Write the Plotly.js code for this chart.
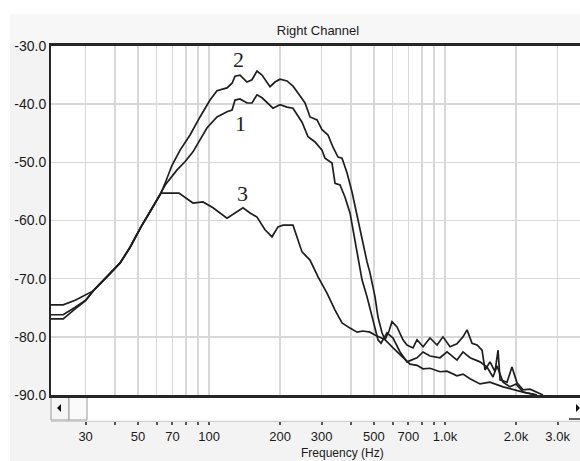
<!DOCTYPE html>
<html>
<head>
<meta charset="utf-8">
<script src="https://cdn.plot.ly/plotly-3.0.1.min.js"></script>
<style>html,body{margin:0;padding:0;background:#fff;}#chart{width:580px;height:461px;}</style>
</head>
<body>
<div id="chart"></div>
<script>
// ---- data (frequency in Hz, level in dB) ----
var freq1 = [21.4,24.1,27.1,30.0,32.3,38.4,42.0,46.3,51.5,56.8,62.6,65.7,73.2,79.1,85.5,91.6,98.0,108.1,119.2,125.2,128.9,135.3,144.9,152.1,159.7,167.7,176.1,186.7,200.0,214.0,226.9,238.3,247.8,262.8,281.3,301.2,310.0,332.0,342.0,359.1,377.0,395.8,411.6,428.0,445.0,467.2,495.3,520.0,535.6,567.9,602.3,644.8,690.2,761.0,807,864,952,1020,1124,1192,1277,1407,1507,1597,1661,1762,1886,1999,2141,2454];
var level1 = [-76.9,-76.9,-75.2,-73.8,-72.1,-69.0,-67.3,-64.6,-61.1,-58.2,-55.3,-53.7,-51.3,-49.9,-48.2,-46.2,-44.1,-42.2,-41.3,-41.0,-39.3,-39.1,-39.8,-39.8,-38.4,-38.9,-39.8,-40.7,-40.1,-40.5,-40.7,-42.0,-43.1,-45.6,-46.5,-47.9,-49.3,-50.1,-53.6,-53.9,-56.0,-58.7,-62.5,-66.4,-70.2,-73.1,-77.1,-80.5,-81.1,-79.3,-80.2,-82.6,-84.3,-83.6,-82.6,-83.3,-83.6,-82.6,-84.0,-82.6,-83.6,-84.3,-85.2,-86.9,-85.0,-87.8,-88.6,-88.1,-89.5,-90.0];

var freq2 = [21.4,24.1,27.1,30.0,32.3,38.4,42.0,46.3,51.5,56.8,62.6,65.7,69.7,75.4,83.1,91.6,101.0,108.1,119.2,125.2,128.9,135.3,144.9,152.1,159.7,167.7,176.1,181.3,190.4,200.0,214.0,226.9,238.3,255.2,267.9,286.9,301.2,319.3,335.3,352.1,366.2,384.3,403.6,423.8,445.0,467.2,481.0,505.0,520.0,540.8,557.0,579,596.4,626,663.7,690.2,731.8,761.0,807,864,925,980.6,1050,1124,1192,1240,1302,1367,1435,1478,1551,1629,1678,1711,1832,1922,2019,2141,2292,2454,2602];
var level2 = [-76.2,-76.2,-74.9,-73.7,-72.1,-69.0,-67.3,-64.6,-61.1,-58.2,-55.3,-53.2,-50.5,-47.9,-45.3,-42.2,-39.3,-37.7,-37.2,-36.4,-35.2,-35.0,-36.2,-35.8,-34.3,-35.0,-36.2,-37.0,-36.2,-35.7,-36.0,-36.9,-38.1,-39.8,-42.2,-42.7,-44.4,-45.3,-47.4,-49.1,-49.3,-51.8,-55.1,-59.1,-63.4,-67.1,-69.0,-73.1,-76.6,-79.3,-80.5,-79.0,-77.4,-78.3,-80.5,-81.4,-81.9,-80.5,-81.7,-80.2,-81.4,-80.0,-81.7,-81.2,-80.0,-78.8,-81.1,-81.4,-82.3,-85.7,-84.3,-86.0,-82.3,-87.4,-87.8,-85.2,-87.9,-89.1,-89.0,-89.5,-90.0];

var freq3 = [21.4,24.1,27.1,30.0,32.3,38.4,42.0,46.3,51.5,56.8,62.6,64.5,74.6,85.5,94.3,104.0,119.2,139.3,149.2,159.7,172.7,184.9,196.0,205.9,226.9,247.8,267.9,289.7,316.2,342.0,366.2,395.8,423.8,449.3,481.0,505.0,557.0,602.3,663.7,710.7,761,807,864,952,1020,1124,1192,1277,1407,1551,1762,1941,2141,2454];
var level3 = [-74.5,-74.5,-73.7,-72.8,-72.1,-69.0,-67.3,-64.6,-61.1,-58.2,-55.3,-55.3,-55.3,-57.0,-56.8,-57.8,-59.6,-57.8,-58.7,-59.4,-61.6,-62.8,-61.1,-60.8,-60.8,-65.4,-66.8,-69.7,-72.5,-75.4,-77.6,-78.5,-79.2,-79.0,-79.2,-79.7,-80.5,-81.9,-83.6,-84.7,-84.9,-85.5,-85.4,-86.0,-85.9,-86.7,-86.4,-87.2,-88.1,-87.8,-88.6,-89.1,-89.5,-90.0];

var seriesNames = ['1','2','3'];
var yTickVals = [-90,-80,-70,-60,-50,-40,-30];
var yTickText = ['-90.0','-80.0','-70.0','-60.0','-50.0','-40.0','-30.0'];
var xTickVals = [30,40,50,60,70,80,90,100,200,300,400,500,600,700,800,900,1000,2000,3000];
var xTickText = ['30','','50','','70','','','100','200','300','','500','','700','','','1.0k','2.0k','3.0k'];
var chartTitle = 'Right Channel';
var xTitle = 'Frequency (Hz)';

// ---- geometry helpers (pixels -> paper) ----
var W = 580, H = 461, ML = 51, MT = 46;
var PW = W - ML, PH = H - MT;
function px(x){ return (x - ML) / PW; }
function py(y){ return (H - y) / PH; }

var lineStyle = {color:'#1e1e1e', width:1.7};
var traces = [
  {x:freq1, y:level1, name:seriesNames[0], mode:'lines', line:lineStyle},
  {x:freq2, y:level2, name:seriesNames[1], mode:'lines', line:lineStyle},
  {x:freq3, y:level3, name:seriesNames[2], mode:'lines', line:lineStyle, xaxis:'x2', yaxis:'y'}
];

var xr = [Math.log10(21.4), Math.log10(3733)];
var sans = 'Liberation Sans, Arial, sans-serif';

var layout = {
  width: W, height: H,
  margin: {l: ML, r: 0, t: MT, b: 0, pad: 0},
  paper_bgcolor: '#f3f3f3',
  plot_bgcolor: '#ffffff',
  showlegend: false,
  title: {text: chartTitle, x: 318 / W, xanchor: 'center', xref: 'container', y: 1 - 30 / H, yanchor: 'middle', yref: 'container',
          font: {family: sans, size: 13, color: '#1a1a1a'}},
  xaxis: {type: 'log', range: xr, tickvals: xTickVals, showticklabels: false, ticks: '',
          showgrid: true, gridcolor: '#d8d8d8', gridwidth: 1.6, zeroline: false,
          showline: true, mirror: true, linecolor: '#262626', linewidth: 3, fixedrange: true},
  xaxis2: {type: 'log', range: xr, overlaying: 'x', anchor: 'free', position: py(421),
          tickvals: xTickVals, ticktext: xTickText, ticks: 'outside', ticklen: 3, tickwidth: 2, tickcolor: '#555',
          showgrid: false, zeroline: false, showline: true, linecolor: '#d0d0d0', linewidth: 1,
          tickfont: {family: sans, size: 13, color: '#1a1a1a'}, fixedrange: true},
  yaxis: {domain: [py(395), 1], range: [-90, -30], tickvals: yTickVals, ticktext: yTickText, ticks: '',
          showgrid: true, gridcolor: '#d8d8d8', gridwidth: 1.6, zeroline: false,
          showline: true, linecolor: '#262626', linewidth: 2,
          tickfont: {family: sans, size: 14, color: '#1a1a1a'}, fixedrange: true},
  shapes: [
    {type:'rect', xref:'paper', yref:'paper', x0:px(0), x1:px(10), y0:py(461), y1:py(0), fillcolor:'#ffffff', line:{width:0}, layer:'below'},
    {type:'rect', xref:'paper', yref:'paper', x0:px(0), x1:px(580), y0:py(14), y1:py(0), fillcolor:'#ffffff', line:{width:0}, layer:'below'},
    {type:'rect', xref:'paper', yref:'paper', x0:px(10), x1:px(580), y0:py(43), y1:py(14), fillcolor:'#f7f7f7', line:{width:0}, layer:'below'},
    {type:'rect', xref:'paper', yref:'paper', x0:px(51), x1:px(580), y0:py(420), y1:py(396), fillcolor:'#ffffff', line:{width:0}, layer:'below'},
    {type:'rect', xref:'paper', yref:'paper', x0:px(51), x1:px(69), y0:py(420), y1:py(396), fillcolor:'#f6f6f6', line:{color:'#9a9a9a', width:1}, layer:'below'},
    {type:'rect', xref:'paper', yref:'paper', x0:px(69), x1:px(87), y0:py(420), y1:py(396), fillcolor:'#fafafa', line:{color:'#9a9a9a', width:1}, layer:'below'},
    {type:'path', xref:'paper', yref:'paper', path:'M '+px(57)+' '+py(408)+' L '+px(61)+' '+py(404)+' L '+px(61)+' '+py(412)+' Z', fillcolor:'#111', line:{width:0}},
    {type:'path', xref:'paper', yref:'paper', path:'M '+px(580)+' '+py(408)+' L '+px(576)+' '+py(404)+' L '+px(576)+' '+py(412)+' Z', fillcolor:'#111', line:{width:0}},
    {type:'line', xref:'paper', yref:'paper', x0:px(569), x1:px(580), y0:py(419), y1:py(419), line:{color:'#333', width:1.5}}
  ],
  annotations: [
    {text: seriesNames[1], x: Math.log10(132.7), y: -32.4, xref:'x', yref:'y', showarrow:false,
     font:{family:'Liberation Serif, Times New Roman, serif', size:22, color:'#1e1e1e'}},
    {text: seriesNames[0], x: Math.log10(135.3), y: -43.4, xref:'x', yref:'y', showarrow:false,
     font:{family:'Liberation Serif, Times New Roman, serif', size:22, color:'#1e1e1e'}},
    {text: seriesNames[2], x: Math.log10(139.3), y: -55.3, xref:'x', yref:'y', showarrow:false,
     font:{family:'Liberation Serif, Times New Roman, serif', size:22, color:'#1e1e1e'}},
    {text: xTitle, x: px(342), y: 0, xref:'paper', yref:'paper', xanchor:'center', yanchor:'bottom', showarrow:false,
     borderpad: 0, font:{family: sans, size:12, color:'#1a1a1a'}}
  ]
};

Plotly.newPlot('chart', traces, layout, {staticPlot: true, displayModeBar: false});
</script>
</body>
</html>
